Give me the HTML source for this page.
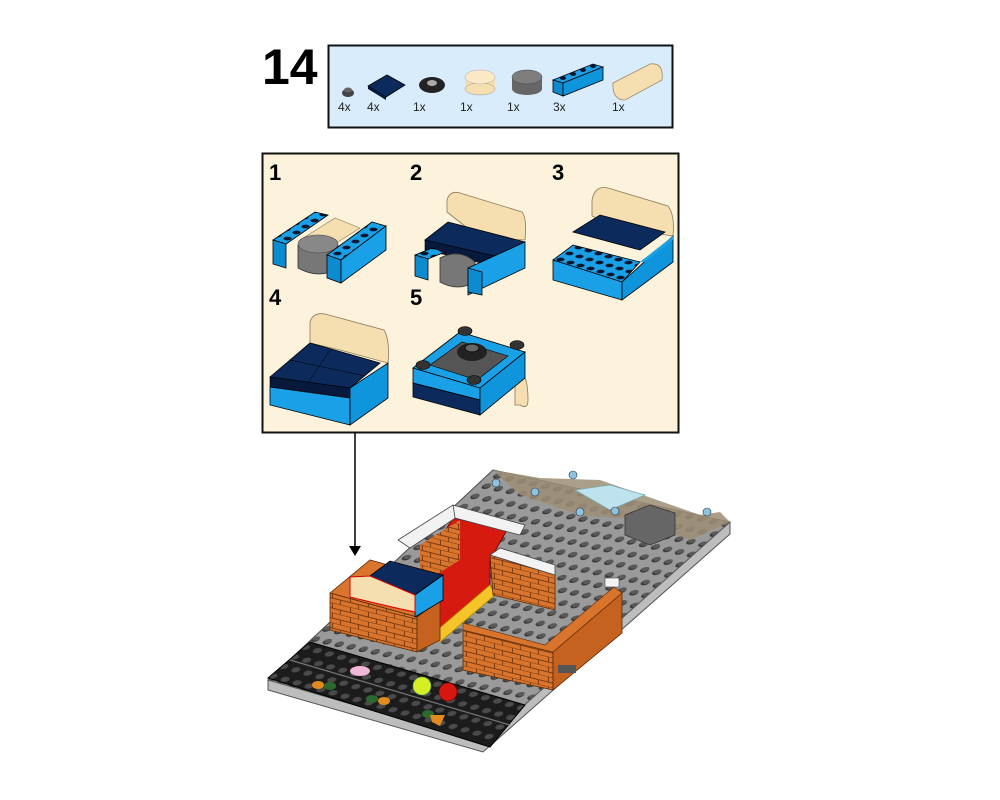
<!DOCTYPE html>
<html><head><meta charset="utf-8"><style>
html,body{margin:0;padding:0;background:#fff;}
svg{display:block;font-family:"Liberation Sans",Arial,sans-serif;}
</style></head><body>
<svg width="1000" height="800" viewBox="0 0 1000 800" xmlns="http://www.w3.org/2000/svg">
<defs>
<pattern id="studs" width="12" height="12" patternUnits="userSpaceOnUse" patternTransform="matrix(1 0.21 -0.95 0.85 0 0)">
<rect width="12" height="12" fill="#9a9a9a"/><ellipse cx="6" cy="6" rx="3.6" ry="3.2" fill="#3a3a3a"/><ellipse cx="6" cy="5.2" rx="3" ry="2.4" fill="#5a5a5a"/>
</pattern>
<pattern id="road" width="12" height="12" patternUnits="userSpaceOnUse" patternTransform="matrix(1 0.28 -0.9 0.8 0 0)">
<rect width="12" height="12" fill="#1c1c1c"/><ellipse cx="6" cy="6" rx="3.6" ry="3" fill="#4a4a4a"/>
</pattern>
<pattern id="brick" width="18" height="10" patternUnits="userSpaceOnUse" patternTransform="matrix(1 0.25 0 1 0 0)">
<rect width="18" height="10" fill="#d9742c"/><rect x="0" y="4.5" width="18" height="1" fill="#7a3a10"/><rect x="0" y="9.5" width="18" height="1" fill="#7a3a10"/><rect x="8" y="0" width="1" height="5" fill="#7a3a10"/><rect x="16" y="5" width="1" height="5" fill="#7a3a10"/>
</pattern>
<pattern id="bstud" width="10" height="10" patternUnits="userSpaceOnUse" patternTransform="matrix(1 0.3 -0.9 0.6 0 0)">
<rect width="10" height="10" fill="#1aa0e6"/><ellipse cx="5" cy="5" rx="3.3" ry="2.6" fill="#0a1530"/>
</pattern>
</defs>

<text x="262" y="84" font-size="50" font-weight="bold" fill="#000">14</text>

<rect x="328.5" y="45.5" width="344" height="82" fill="#d8ecfb" stroke="#111" stroke-width="2"/>
<g font-size="12" fill="#222">
<text x="338" y="111">4x</text><text x="367" y="111">4x</text><text x="413" y="111">1x</text><text x="460" y="111">1x</text><text x="507" y="111">1x</text><text x="553" y="111">3x</text><text x="612" y="111">1x</text>
</g>
<ellipse cx="348" cy="93" rx="6" ry="4" fill="#444"/><ellipse cx="348" cy="90" rx="4" ry="2.5" fill="#666"/>
<polygon points="368,86 387,75 405,85 386,97" fill="#0d2a5c" stroke="#000" stroke-width="0.8"/>
<polygon points="368,86 386,97 386,100 368,89" fill="#071a3d"/>
<ellipse cx="432" cy="85" rx="13" ry="8" fill="#222"/><ellipse cx="432" cy="83" rx="5" ry="3" fill="#aaa"/>
<rect x="465" y="77" width="30" height="12" fill="#f5deb0"/><ellipse cx="480" cy="89" rx="15" ry="6" fill="#f5deb0" stroke="#999" stroke-width="0.5"/><ellipse cx="480" cy="77" rx="15" ry="7" fill="#fbe9c6" stroke="#aaa" stroke-width="0.5"/>
<rect x="512" y="77" width="30" height="12" fill="#666"/><ellipse cx="527" cy="89" rx="15" ry="6" fill="#666"/><ellipse cx="527" cy="77" rx="15" ry="7" fill="#7d7d7d" stroke="#444" stroke-width="0.5"/>
<polygon points="553,80 593,64 603,67 563,83" fill="#1aa0e6" stroke="#000" stroke-width="0.8"/>
<polygon points="553,80 563,83 563,96 553,92" fill="#0d8bd0" stroke="#000" stroke-width="0.8"/>
<polygon points="563,83 603,67 603,80 563,96" fill="#0e95dc" stroke="#000" stroke-width="0.8"/>
<g fill="#0a1530"><ellipse cx="563" cy="78" rx="3" ry="2"/><ellipse cx="573" cy="74" rx="3" ry="2"/><ellipse cx="583" cy="70" rx="3" ry="2"/><ellipse cx="593" cy="66" rx="3" ry="2"/></g>
<path d="M613,83 L650,64 Q664,62 662,80 L625,100 Q612,100 613,83 Z" fill="#f5deb0" stroke="#a08860" stroke-width="0.8"/>

<rect x="262.5" y="153.5" width="416" height="279" fill="#fdf3dc" stroke="#111" stroke-width="2"/>
<g font-size="22" font-weight="bold" fill="#000">
<text x="269" y="180">1</text><text x="410" y="180">2</text><text x="552" y="180">3</text><text x="269" y="305">4</text><text x="410" y="305">5</text>
</g>

<!-- Step 1 -->
<polygon points="273,240 315,212 328,215 286,244" fill="url(#bstud)" stroke="#000" stroke-width="0.8"/>
<polygon points="273,240 286,244 286,268 273,264" fill="#0d8bd0" stroke="#000" stroke-width="0.8"/>
<polygon points="300,240 335,218 360,228 325,250" fill="#f5deb0" stroke="#8a7a5a" stroke-width="0.6"/>
<path d="M298,245 Q320,232 338,245 L338,268 Q320,280 298,268 Z" fill="#777" stroke="#333" stroke-width="0.8"/>
<ellipse cx="318" cy="244" rx="20" ry="9" fill="#888" stroke="#444" stroke-width="0.6"/>
<polygon points="327,255 372,222 386,226 341,260" fill="url(#bstud)" stroke="#000" stroke-width="0.8"/>
<polygon points="327,255 341,260 341,283 327,278" fill="#0d8bd0" stroke="#000" stroke-width="0.8"/>
<polygon points="341,260 386,226 386,250 341,283" fill="#1aa0e6" stroke="#000" stroke-width="0.8"/>

<!-- Step 2 -->
<path d="M447,212 L447,200 Q450,190 460,193 L522,212 Q527,218 525,240 L480,238 Z" fill="#f5deb0" stroke="#8a7a5a" stroke-width="0.8"/>
<polygon points="425,240 448,222 525,242 503,258" fill="#0d2a5c" stroke="#000" stroke-width="0.8"/>
<polygon points="425,240 503,258 503,268 425,250" fill="#071a3d" stroke="#000" stroke-width="0.6"/>
<path d="M440,258 Q460,248 475,262 L475,282 Q458,292 440,282 Z" fill="#777" stroke="#333" stroke-width="0.8"/>
<polygon points="415,255 432,248 445,252 428,259" fill="url(#bstud)" stroke="#000" stroke-width="0.8"/>
<polygon points="415,255 428,259 428,280 415,276" fill="#0d8bd0" stroke="#000" stroke-width="0.8"/>
<polygon points="468,268 525,242 525,268 468,295" fill="#1aa0e6" stroke="#000" stroke-width="0.8"/>
<polygon points="468,268 482,272 482,295 468,292" fill="#0d8bd0" stroke="#000" stroke-width="0.8"/>

<!-- Step 3 -->
<path d="M592,216 L592,200 Q595,185 608,188 L668,206 Q675,215 673,236 L620,228 Z" fill="#f5deb0" stroke="#8a7a5a" stroke-width="0.8"/>
<polygon points="573,232 600,215 665,232 640,250" fill="#0d2a5c" stroke="#000" stroke-width="0.8"/>
<polygon points="553,260 573,245 640,262 622,282" fill="url(#bstud)" stroke="#000" stroke-width="0.8"/>
<polygon points="553,260 622,282 622,300 553,280" fill="#1aa0e6" stroke="#000" stroke-width="0.8"/>
<polygon points="622,282 673,236 673,262 622,300" fill="#0e95dc" stroke="#000" stroke-width="0.8"/>
<polygon points="640,262 673,236 673,240 645,262" fill="#1aa0e6"/>

<!-- Step 4 -->
<path d="M310,343 L310,322 Q313,312 325,314 L384,330 Q390,340 388,363 L340,350 Z" fill="#f5deb0" stroke="#8a7a5a" stroke-width="0.8"/>
<polygon points="270,377 310,343 380,363 350,388" fill="#0d2a5c" stroke="#000" stroke-width="0.8"/>
<line x1="290" y1="360" x2="365" y2="376" stroke="#000" stroke-width="0.5"/>
<line x1="330" y1="350" x2="308" y2="383" stroke="#000" stroke-width="0.5"/>
<polygon points="270,377 350,388 350,398 270,387" fill="#071a3d" stroke="#000" stroke-width="0.6"/>
<polygon points="270,387 350,398 350,425 270,405" fill="#1aa0e6" stroke="#000" stroke-width="0.8"/>
<polygon points="350,388 388,363 388,398 350,425" fill="#0e95dc" stroke="#000" stroke-width="0.8"/>

<!-- Step 5 -->
<path d="M515,375 L520,372 Q528,375 528,400 Q528,410 520,405 L515,405 Z" fill="#f5deb0" stroke="#8a7a5a" stroke-width="0.8"/>
<polygon points="413,368 460,332 525,352 480,388" fill="#1aa0e6" stroke="#000" stroke-width="0.8"/>
<polygon points="430,365 462,342 508,356 477,380" fill="#555" stroke="#000" stroke-width="0.6"/>
<polygon points="413,368 480,388 480,400 413,383" fill="#1aa0e6" stroke="#000" stroke-width="0.8"/>
<polygon points="413,383 480,400 480,415 413,397" fill="#0d2a5c" stroke="#000" stroke-width="0.8"/>
<polygon points="480,388 525,352 525,378 480,415" fill="#0e95dc" stroke="#000" stroke-width="0.8"/>
<ellipse cx="472" cy="352" rx="15" ry="9" fill="#222"/><ellipse cx="472" cy="348" rx="7" ry="4" fill="#666" stroke="#111"/>
<g fill="#333" stroke="#000" stroke-width="0.6">
<ellipse cx="465" cy="331" rx="7" ry="4.5"/><ellipse cx="517" cy="345" rx="7" ry="4.5"/><ellipse cx="423" cy="365" rx="7" ry="4.5"/><ellipse cx="474" cy="380" rx="7" ry="4.5"/>
</g>

<line x1="355" y1="433" x2="355" y2="548" stroke="#000" stroke-width="1.5"/>
<polygon points="349,546 361,546 355,556" fill="#000"/>

<!-- Main model -->
<polygon points="268,680 493,470 730,522 730,534 483,752 268,690" fill="#bdbdbd" stroke="#555" stroke-width="1"/>
<polygon points="268,680 493,470 730,522 483,742" fill="url(#studs)" stroke="#555" stroke-width="1"/>
<polygon points="268,678 310,642 525,705 490,747" fill="url(#road)" stroke="#000" stroke-width="1"/>
<line x1="290" y1="660" x2="510" y2="725" stroke="#777" stroke-width="1.2"/>
<polygon points="493,470 540,478 600,480 700,515 720,512 730,522 690,540 640,520 580,515 520,495" fill="#9e8e74" opacity="0.85"/>
<polygon points="575,490 610,485 645,495 610,510" fill="#bfe3ee" stroke="#7aa" stroke-width="0.8"/>
<polygon points="625,515 650,505 675,513 675,535 650,545 625,535" fill="#666" stroke="#333" stroke-width="0.8"/>
<g fill="#8fc3dd" stroke="#234" stroke-width="0.6">
<circle cx="496" cy="483" r="4"/><circle cx="535" cy="492" r="4"/><circle cx="573" cy="475" r="4"/><circle cx="580" cy="512" r="4"/><circle cx="615" cy="511" r="4"/><circle cx="707" cy="512" r="4"/>
</g>
<polygon points="453,518 507,530 490,560 490,590 440,640 417,635 417,575" fill="#d61a10" stroke="#600" stroke-width="0.8"/>
<polygon points="428,638 490,585 495,595 440,642" fill="#f5c428" stroke="#a80" stroke-width="0.8"/>
<polygon points="398,540 453,505 460,515 410,548" fill="#f2f2f2" stroke="#444" stroke-width="0.8"/>
<polygon points="453,505 525,525 520,535 455,518" fill="#f2f2f2" stroke="#444" stroke-width="0.8"/>
<polygon points="420,545 460,520 460,560 420,585" fill="url(#brick)"/>
<polygon points="490,555 555,575 555,610 493,595" fill="url(#brick)" stroke="#5a2a08" stroke-width="0.8"/>
<polygon points="490,555 500,548 555,565 555,575" fill="#f2f2f2" stroke="#444" stroke-width="0.8"/>
<polygon points="330,593 370,560 417,573 417,617" fill="#d9742c" stroke="#5a2a08" stroke-width="0.8"/>
<polygon points="330,593 417,617 417,652 330,630" fill="url(#brick)" stroke="#5a2a08" stroke-width="0.8"/>
<polygon points="417,617 440,600 440,640 417,652" fill="#c5621f" stroke="#5a2a08" stroke-width="0.8"/>
<polygon points="370,576 390,561 443,575 415,595" fill="#0d2a5c" stroke="#000" stroke-width="0.8"/>
<polygon points="415,595 443,575 443,600 415,617" fill="#1aa0e6" stroke="#000" stroke-width="0.8"/>
<path d="M350,577 L370,576 L415,595 L415,612 Q395,608 350,597 Z" fill="#f5deb0" stroke="#d00" stroke-width="1"/>
<!-- right brick wall -->
<polygon points="463,630 553,652 553,690 463,670" fill="url(#brick)" stroke="#5a2a08" stroke-width="0.8"/>
<polygon points="553,652 622,593 622,633 553,690" fill="#c5621f" stroke="#5a2a08" stroke-width="0.8"/>
<polygon points="463,623 545,645 614,587 622,593 553,652 463,630" fill="#d9742c" stroke="#5a2a08" stroke-width="0.6"/>
<rect x="605" y="578" width="14" height="9" fill="#f2f2f2" stroke="#444" stroke-width="0.6"/>
<rect x="558" y="665" width="18" height="8" fill="#555"/>
<ellipse cx="360" cy="671" rx="10" ry="5" fill="#f3b8d8"/>
<circle cx="422" cy="686" r="9" fill="#d4f024" stroke="#5a6" stroke-width="0.6"/>
<circle cx="448" cy="692" r="9" fill="#d81810" stroke="#700" stroke-width="0.6"/>
<ellipse cx="318" cy="685" rx="6" ry="4" fill="#e08a20"/><ellipse cx="330" cy="686" rx="6" ry="4" fill="#2a6a30"/>
<ellipse cx="372" cy="699" rx="6" ry="4" fill="#2a6a30"/><ellipse cx="384" cy="701" rx="6" ry="4" fill="#e08a20"/>
<ellipse cx="428" cy="714" rx="6" ry="4" fill="#2a6a30"/><polygon points="430,715 445,715 440,726 432,722" fill="#e08a20"/>
</svg>
</body></html>
